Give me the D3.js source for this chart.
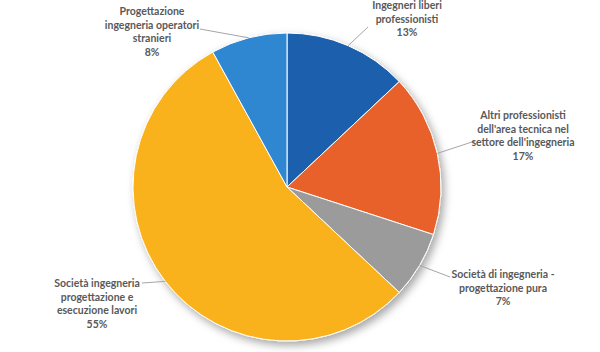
<!DOCTYPE html>
<html>
<head>
<style>
  body { margin: 0; background: #fff; }
  .label { font-family: Lato, "Open Sans", sans-serif; font-size: 10.5px; font-weight: bold; fill: #595959; }
</style>
<script src="https://cdn.jsdelivr.net/npm/d3@7/dist/d3.min.js"></script>
</head>
<body>
<script>
const categories = [
  "Ingegneri liberi professionisti",
  "Altri professionisti dell'area tecnica nel settore dell'ingegneria",
  "Società di ingegneria - progettazione pura",
  "Società ingegneria progettazione e esecuzione lavori",
  "Progettazione ingegneria operatori stranieri"
];
const values = [13, 17, 7, 55, 8];
const labelLines = [
  ["Ingegneri liberi", "professionisti", "13%"],
  ["Altri professionisti", "dell'area tecnica nel", "settore dell'ingegneria", "17%"],
  ["Società di ingegneria -", "progettazione pura", "7%"],
  ["Società ingegneria", "progettazione e", "esecuzione lavori", "55%"],
  ["Progettazione", "ingegneria operatori", "stranieri", "8%"]
];
const colors = ["#1c5ead", "#e8612c", "#9b9b9b", "#f9b11a", "#2f87d0"];

// label layout: text centre x, first baseline y, leader end point (near text)
const labelLayout = [
  { x: 407, y: 9,   lx: 368, ly: 27 },
  { x: 523, y: 119, lx: 475, ly: 141 },
  { x: 503, y: 278, lx: 450, ly: 277 },
  { x: 97,  y: 287, lx: 142, ly: 283 },
  { x: 152, y: 15,  lx: 200, ly: 29 }
];

const w = 600, h = 352;
const cx = 287, cy = 187, r = 154;
const lineH = 13.5;

const svg = d3.select("body").append("svg")
  .attr("width", w).attr("height", h);

const defs = svg.append("defs");
const f = defs.append("filter").attr("id", "shadow")
  .attr("x", "-20%").attr("y", "-20%").attr("width", "140%").attr("height", "140%");
f.append("feDropShadow")
  .attr("dx", 3).attr("dy", 4).attr("stdDeviation", 4)
  .attr("flood-color", "#000").attr("flood-opacity", 0.35);

const pie = d3.pie().sort(null).value(d => d);
const arcs = pie(values);
const arc = d3.arc().innerRadius(0).outerRadius(r);
const edge = d3.arc().innerRadius(r).outerRadius(r);

const g = svg.append("g").attr("transform", `translate(${cx},${cy})`);

g.append("g").attr("filter", "url(#shadow)")
  .selectAll("path")
  .data(arcs)
  .enter()
  .append("path")
  .attr("d", arc)
  .attr("fill", (d, i) => colors[i])
  .attr("stroke", "#fff")
  .attr("stroke-width", 1);

// leader lines
svg.selectAll("line.leader")
  .data(arcs)
  .enter()
  .append("polyline")
  .attr("class", "leader")
  .attr("points", (d, i) => {
    const c = edge.centroid(d);
    const L = labelLayout[i];
    return `${cx + c[0]},${cy + c[1]} ${L.lx},${L.ly}`;
  })
  .attr("fill", "none")
  .attr("stroke", "#a6a6a6")
  .attr("stroke-width", 1);

// labels
const labels = svg.selectAll("text.label")
  .data(labelLines)
  .enter()
  .append("text")
  .attr("class", "label")
  .attr("text-anchor", "middle")
  .attr("x", (d, i) => labelLayout[i].x)
  .attr("y", (d, i) => labelLayout[i].y);

labels.selectAll("tspan")
  .data((d, i) => d.map(t => ({ t, i })))
  .enter()
  .append("tspan")
  .attr("x", d => labelLayout[d.i].x)
  .attr("dy", (d, j) => j === 0 ? 0 : lineH)
  .text(d => d.t);

labels.append("title").text((d, i) => categories[i]);
</script>
</body>
</html>
